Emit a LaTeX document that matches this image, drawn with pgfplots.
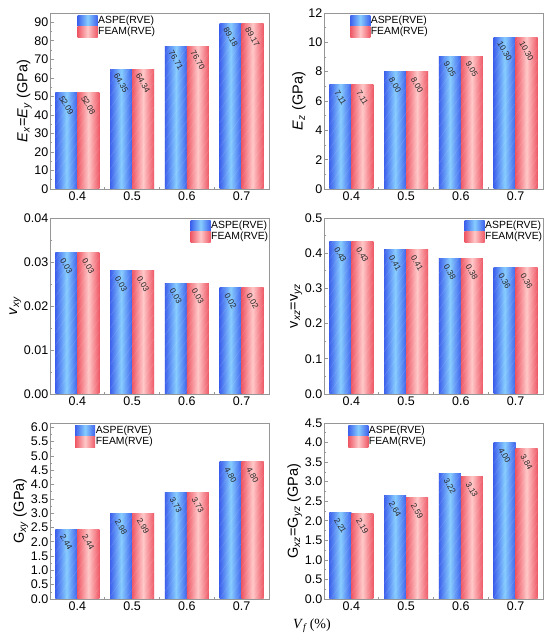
\documentclass[border=0pt]{standalone}
\usepackage{pgfplots}
\pgfplotsset{compat=1.18}
\usepackage{fontspec}
\setmainfont{Liberation Sans}
\newfontfamily\serifrm{Liberation Serif}
\usetikzlibrary{patterns.meta}
\definecolor{bdark}{RGB}{62,98,236}
\definecolor{blight}{RGB}{135,205,255}
\definecolor{rdark}{RGB}{238,88,102}
\definecolor{rlight}{RGB}{255,200,200}
\definecolor{framegray}{RGB}{150,150,150}
\pgfplotsset{
  /pgf/number format/assume math mode=true,
  panel/.style={
    scale only axis, width=219pt, height=176pt,
    anchor=south west,
    xmin=-0.5, xmax=3.5, ymin=0,
    xtick={0,1,2,3}, xticklabels={0.4,0.5,0.6,0.7},
    minor xtick={0.5,1.5,2.5},
    axis line style={framegray, line width=0.7pt},
    every tick/.style={framegray, line width=0.6pt},
    major tick length=4pt, minor tick length=2.2pt,
    tick align=inside,
    xtick pos=bottom, ytick pos=left,
    scaled y ticks=false,
    ticklabel style={font=\fontsize{12.5}{13}\selectfont},
    yticklabel style={inner sep=1.5pt},
    xticklabel style={inner sep=3pt},
    ylabel style={font=\fontsize{14.5}{15}\selectfont, inner sep=1pt},
    legend style={draw=none, fill=none, font=\fontsize{10.4}{11}\selectfont,
      row sep=0pt, inner sep=0pt, nodes={inner sep=0.6pt, text height=7.8pt, text depth=2.4pt}},
    legend cell align=left,
  },
  hatch/.style={postaction={draw=none, opacity=0.25, pattern={Lines[angle=55,distance=7pt,line width=0.3pt]}, pattern color=white}},
  bluebar/.style={ybar, bar width=0.4, bar shift=-0.2, draw=none, forget plot,
    left color=bdark, right color=bdark, middle color=blight, hatch},
  redbar/.style={ybar, bar width=0.4, bar shift=0.2, draw=none, forget plot,
    left color=rdark, right color=rdark, middle color=rlight, hatch},
  lab/.style={draw=none, mark=none, forget plot,
    nodes near coords,
    nodes near coords style={/pgf/number format/fixed, /pgf/number format/fixed zerofill, /pgf/number format/precision=2},
    every node near coord/.append style={font=\fontsize{8.2}{9}\selectfont, text=black!85, anchor=center, yshift=-13pt, rotate=-60, inner sep=0pt}},
  legblue/.style={legend image code/.code={\path[draw=none, left color=bdark, right color=bdark, middle color=blight] (0pt,-5.4pt) rectangle (20pt,5.4pt);}},
  legred/.style={legend image code/.code={\path[draw=none, left color=rdark, right color=rdark, middle color=rlight] (0pt,-5.4pt) rectangle (20pt,5.4pt);}},
}
\begin{document}
\begin{tikzpicture}
\useasboundingbox (0,0) rectangle (550pt,644pt);
% ---------- top left
\begin{axis}[panel, at={(50pt,455pt)}, ymax=95, ytick={0,10,...,90}, minor ytick={5,15,...,95},
  ylabel={\textit{E}\textsubscript{\textit{x}}=\textit{E}\textsubscript{\textit{y}} (GPa)},
  legend style={at={(axis description cs:0.125,0.99)}, anchor=north west}]
\addplot[bluebar] coordinates {(0,52.09)};
\addplot[bluebar] coordinates {(1,64.35)};
\addplot[bluebar] coordinates {(2,76.71)};
\addplot[bluebar] coordinates {(3,89.18)};
\addplot[redbar] coordinates {(0,52.08)};
\addplot[redbar] coordinates {(1,64.34)};
\addplot[redbar] coordinates {(2,76.70)};
\addplot[redbar] coordinates {(3,89.17)};
\addplot[lab] coordinates {(-0.2,52.09) (0.8,64.35) (1.8,76.71) (2.8,89.18)};
\addplot[lab] coordinates {(0.2,52.08) (1.2,64.34) (2.2,76.70) (3.2,89.17)};
\addlegendimage{legblue}\addlegendentry{ASPE(RVE)}
\addlegendimage{legred}\addlegendentry{FEAM(RVE)}
\end{axis}
% ---------- top right
\begin{axis}[panel, at={(324pt,455pt)}, ymax=12, ytick={0,2,...,12}, minor ytick={1,3,...,11},
  ylabel={\textit{E}\textsubscript{\textit{z}} (GPa)},
  legend style={at={(axis description cs:0.119,0.99)}, anchor=north west}]
\addplot[bluebar] coordinates {(0,7.11)};
\addplot[bluebar] coordinates {(1,8.00)};
\addplot[bluebar] coordinates {(2,9.05)};
\addplot[bluebar] coordinates {(3,10.30)};
\addplot[redbar] coordinates {(0,7.11)};
\addplot[redbar] coordinates {(1,8.00)};
\addplot[redbar] coordinates {(2,9.05)};
\addplot[redbar] coordinates {(3,10.30)};
\addplot[lab] coordinates {(-0.2,7.11) (0.8,8.00) (1.8,9.05) (2.8,10.30)};
\addplot[lab] coordinates {(0.2,7.11) (1.2,8.00) (2.2,9.05) (3.2,10.30)};
\addlegendimage{legblue}\addlegendentry{ASPE(RVE)}
\addlegendimage{legred}\addlegendentry{FEAM(RVE)}
\end{axis}
% ---------- middle left
\begin{axis}[panel, at={(50pt,250pt)}, ymax=0.04, ytick={0,0.01,0.02,0.03,0.04}, minor ytick={0.005,0.015,0.025,0.035},
  yticklabel style={/pgf/number format/fixed, /pgf/number format/fixed zerofill, /pgf/number format/precision=2},
  ylabel={\textit{v}\textsubscript{\textit{xy}}},
  legend style={at={(axis description cs:1,0.99)}, anchor=north east}]
\addplot[bluebar] coordinates {(0,0.0321)};
\addplot[bluebar] coordinates {(1,0.0280)};
\addplot[bluebar] coordinates {(2,0.0252)};
\addplot[bluebar] coordinates {(3,0.0241)};
\addplot[redbar] coordinates {(0,0.0321)};
\addplot[redbar] coordinates {(1,0.0280)};
\addplot[redbar] coordinates {(2,0.0252)};
\addplot[redbar] coordinates {(3,0.0241)};
\addplot[lab] coordinates {(-0.2,0.0321) (0.8,0.0280) (1.8,0.0252) (2.8,0.0241)};
\addplot[lab] coordinates {(0.2,0.0321) (1.2,0.0280) (2.2,0.0252) (3.2,0.0241)};
\addlegendimage{legblue}\addlegendentry{ASPE(RVE)}
\addlegendimage{legred}\addlegendentry{FEAM(RVE)}
\end{axis}
% ---------- middle right
\begin{axis}[panel, at={(324pt,250pt)}, ymax=0.5, ytick={0,0.1,0.2,0.3,0.4,0.5}, minor ytick={0.05,0.15,0.25,0.35,0.45},
  yticklabel style={/pgf/number format/fixed, /pgf/number format/fixed zerofill, /pgf/number format/precision=1},
  ylabel={v\textsubscript{\textit{xz}}=v\textsubscript{\textit{yz}}},
  legend style={at={(axis description cs:1,0.99)}, anchor=north east}]
\addplot[bluebar] coordinates {(0,0.433)};
\addplot[bluebar] coordinates {(1,0.410)};
\addplot[bluebar] coordinates {(2,0.384)};
\addplot[bluebar] coordinates {(3,0.358)};
\addplot[redbar] coordinates {(0,0.433)};
\addplot[redbar] coordinates {(1,0.410)};
\addplot[redbar] coordinates {(2,0.384)};
\addplot[redbar] coordinates {(3,0.358)};
\addplot[lab] coordinates {(-0.2,0.433) (0.8,0.410) (1.8,0.384) (2.8,0.358)};
\addplot[lab] coordinates {(0.2,0.433) (1.2,0.410) (2.2,0.384) (3.2,0.358)};
\addlegendimage{legblue}\addlegendentry{ASPE(RVE)}
\addlegendimage{legred}\addlegendentry{FEAM(RVE)}
\end{axis}
% ---------- bottom left
\begin{axis}[panel, at={(50pt,45pt)}, ymax=6.15, ytick={0,0.5,...,6.0}, minor ytick={0.25,0.75,...,6.0},
  yticklabel style={/pgf/number format/fixed, /pgf/number format/fixed zerofill, /pgf/number format/precision=1},
  ylabel={G\textsubscript{\textit{xy}} (GPa)},
  legend style={at={(axis description cs:0.114,0.99)}, anchor=north west}]
\addplot[bluebar] coordinates {(0,2.44)};
\addplot[bluebar] coordinates {(1,2.98)};
\addplot[bluebar] coordinates {(2,3.73)};
\addplot[bluebar] coordinates {(3,4.80)};
\addplot[redbar] coordinates {(0,2.44)};
\addplot[redbar] coordinates {(1,2.99)};
\addplot[redbar] coordinates {(2,3.73)};
\addplot[redbar] coordinates {(3,4.80)};
\addplot[lab] coordinates {(-0.2,2.44) (0.8,2.98) (1.8,3.73) (2.8,4.80)};
\addplot[lab] coordinates {(0.2,2.44) (1.2,2.99) (2.2,3.73) (3.2,4.80)};
\addlegendimage{legblue}\addlegendentry{ASPE(RVE)}
\addlegendimage{legred}\addlegendentry{FEAM(RVE)}
\end{axis}
% ---------- bottom right
\begin{axis}[panel, at={(324pt,45pt)}, ymax=4.5, ytick={0,0.5,...,4.5}, minor ytick={0.25,0.75,...,4.5},
  yticklabel style={/pgf/number format/fixed, /pgf/number format/fixed zerofill, /pgf/number format/precision=1},
  ylabel={G\textsubscript{\textit{xz}}=G\textsubscript{\textit{yz}} (GPa)},
  legend style={at={(axis description cs:0.11,0.99)}, anchor=north west}]
\addplot[bluebar] coordinates {(0,2.21)};
\addplot[bluebar] coordinates {(1,2.64)};
\addplot[bluebar] coordinates {(2,3.22)};
\addplot[bluebar] coordinates {(3,4.00)};
\addplot[redbar] coordinates {(0,2.19)};
\addplot[redbar] coordinates {(1,2.59)};
\addplot[redbar] coordinates {(2,3.13)};
\addplot[redbar] coordinates {(3,3.84)};
\addplot[lab] coordinates {(-0.2,2.21) (0.8,2.64) (1.8,3.22) (2.8,4.00)};
\addplot[lab] coordinates {(0.2,2.19) (1.2,2.59) (2.2,3.13) (3.2,3.84)};
\addlegendimage{legblue}\addlegendentry{ASPE(RVE)}
\addlegendimage{legred}\addlegendentry{FEAM(RVE)}
\end{axis}
\node[font=\serifrm\fontsize{14}{15}\selectfont] at (312pt,18pt) {\textit{V}\textsubscript{\textit{f}}\,(\%)};
\end{tikzpicture}
\end{document}
